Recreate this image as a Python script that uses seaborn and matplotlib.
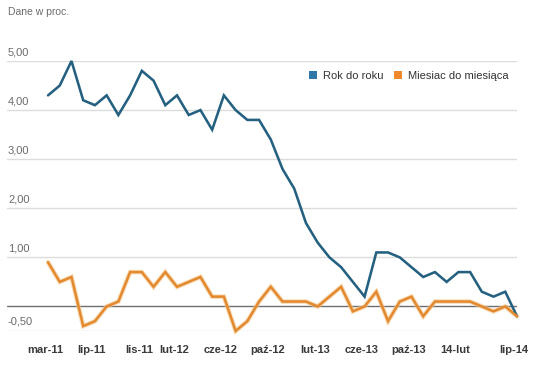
import matplotlib
matplotlib.use("Agg")
import matplotlib.pyplot as plt
import matplotlib.transforms as mtransforms
from matplotlib.patches import Patch
import seaborn as sns
import pandas as pd
import numpy as np

# ---- data ----
months = [
    "2011-03", "2011-04", "2011-05", "2011-06", "2011-07", "2011-08", "2011-09", "2011-10", "2011-11", "2011-12",
    "2012-01", "2012-02", "2012-03", "2012-04", "2012-05", "2012-06", "2012-07", "2012-08", "2012-09", "2012-10",
    "2012-11", "2012-12", "2013-01", "2013-02", "2013-03", "2013-04", "2013-05", "2013-06", "2013-07", "2013-08",
    "2013-09", "2013-10", "2013-11", "2013-12", "2014-01", "2014-02", "2014-03", "2014-04", "2014-05", "2014-06",
    "2014-07",
]
rok_do_roku = [
    4.3, 4.5, 5.0, 4.2, 4.1, 4.3, 3.9, 4.3, 4.8, 4.6,
    4.1, 4.3, 3.9, 4.0, 3.6, 4.3, 4.0, 3.8, 3.8, 3.4,
    2.8, 2.4, 1.7, 1.3, 1.0, 0.8, 0.5, 0.2, 1.1, 1.1,
    1.0, 0.8, 0.6, 0.7, 0.5, 0.7, 0.7, 0.3, 0.2, 0.3,
    -0.2,
]
miesiac_do_miesiaca = [
    0.9, 0.5, 0.6, -0.4, -0.3, 0.0, 0.1, 0.7, 0.7, 0.4,
    0.7, 0.4, 0.5, 0.6, 0.2, 0.2, -0.5, -0.3, 0.1, 0.4,
    0.1, 0.1, 0.1, 0.0, 0.2, 0.4, -0.1, 0.0, 0.3, -0.3,
    0.1, 0.2, -0.2, 0.1, 0.1, 0.1, 0.1, 0.0, -0.1, 0.0,
    -0.2,
]
tick_months = ["2011-03", "2011-07", "2011-11", "2012-02", "2012-06", "2012-10",
               "2013-02", "2013-06", "2013-10", "2014-02", "2014-07"]
tick_labels = ["mar-11", "lip-11", "lis-11", "lut-12", "cze-12", "paź-12",
               "lut-13", "cze-13", "paź-13", "14-lut", "lip-14"]
y_ticks = [5.0, 4.0, 3.0, 2.0, 1.0, -0.5]
y_tick_labels = ["5,00", "4,00", "3,00", "2,00", "1,00", "-0,50"]
series_names = ["Rok do roku", "Miesiac do miesiąca"]

line_colors = ["#24607f", "#e38a30"]
legend_colors = ["#2f78a8", "#f0892b"]

# ---- build frame ----
idx = list(range(len(months)))
df = pd.DataFrame({
    "i": idx * 2,
    "value": rok_do_roku + miesiac_do_miesiaca,
    "series": [series_names[0]] * len(months) + [series_names[1]] * len(months),
})

sns.set_theme(style="white")
plt.rcParams["font.family"] = ["Liberation Sans", "DejaVu Sans"]

fig = plt.figure(figsize=(5.4, 3.65), dpi=100)
ax = fig.add_axes([7 / 540, 1 - 331 / 365, (517 - 7) / 540, (331 - 61) / 365])

# grid lines
for yv in y_ticks:
    ax.axhline(yv, color="#dcdcdc", lw=1.0, zorder=0)
ax.axhline(0, color="#6e6e6e", lw=1.0, zorder=1)

# glow for orange
ax.plot(idx, miesiac_do_miesiaca, color="#f6c98f", lw=3.4, alpha=0.6, zorder=2,
        solid_joinstyle="miter", clip_on=False)

sns.lineplot(data=df, x="i", y="value", hue="series", palette=line_colors,
             hue_order=series_names, linewidth=1.85, ax=ax, legend=False,
             zorder=3, clip_on=False)
for ln in ax.get_lines():
    ln.set_solid_joinstyle("miter")

ax.set_xlim(-3.5, len(months) - 1)
ax.set_ylim(-0.5, 5.0)
for s in ax.spines.values():
    s.set_visible(False)

ax.set_yticks([])
trans = mtransforms.blended_transform_factory(ax.transAxes, ax.transData)
shift_up = mtransforms.ScaledTranslation(1 / 100, 4 / 100, fig.dpi_scale_trans)
for yv, lab in zip(y_ticks, y_tick_labels):
    ax.text(0.0, yv, lab, transform=trans + shift_up, ha="left", va="bottom",
            fontsize=8, color="#6b6b6b")

tick_pos = [months.index(m) for m in tick_months]
ax.set_xticks(tick_pos)
ax.set_xticklabels(tick_labels, fontsize=8, fontweight="bold", color="#3a3a3a")
ax.tick_params(axis="x", length=0, pad=10)
shift_left = mtransforms.ScaledTranslation(-3 / 100, 0, fig.dpi_scale_trans)
for lab in ax.get_xticklabels():
    lab.set_transform(lab.get_transform() + shift_left)
ax.set_xlabel("")
ax.set_ylabel("")

fig.text(8 / 540, 1 - 12 / 365, "Dane w proc.", fontsize=7.5, color="#6b6b6b",
         ha="left", va="center")

handles = [Patch(facecolor=c, edgecolor="none") for c in legend_colors]
leg = fig.legend(handles, series_names, loc="center left",
                 bbox_to_anchor=(303 / 540, 1 - 76 / 365), ncol=2, frameon=False,
                 fontsize=8, handlelength=0.75, handleheight=0.75, handletextpad=0.55,
                 columnspacing=0.9, borderpad=0)
for t in leg.get_texts():
    t.set_color("#333333")

fig.savefig("out.png", dpi=100, facecolor="white")
